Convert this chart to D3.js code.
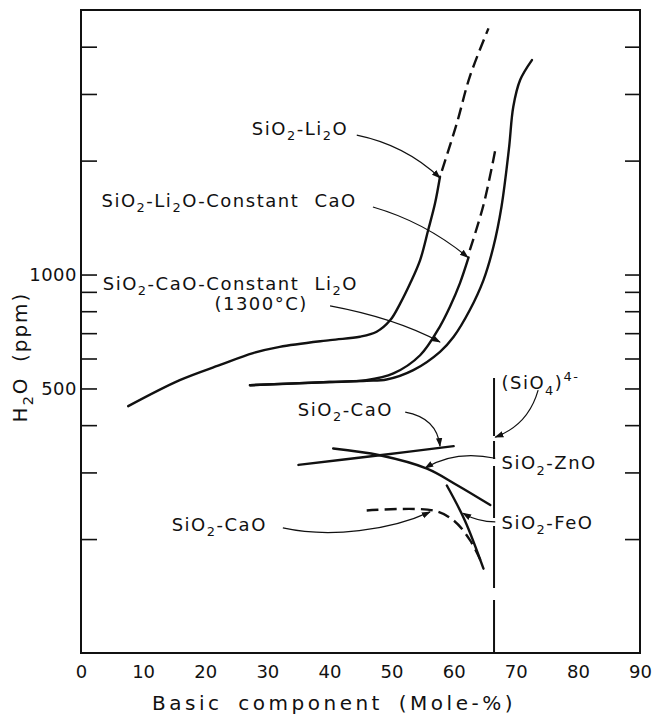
<!DOCTYPE html>
<html>
<head>
<meta charset="utf-8">
<script src="https://cdnjs.cloudflare.com/ajax/libs/d3/7.8.5/d3.min.js"></script>
<style>
  body { margin: 0; background: #fff; }
  text { font-family: "DejaVu Sans", sans-serif; fill: #111; }
</style>
</head>
<body>
<div id="chart"></div>
<script>
// data: x = basic component (mole-%), y = H2O (ppm)
const xTicks = [0, 10, 20, 30, 40, 50, 60, 70, 80, 90]
const yTicks = [200, 300, 400, 500, 600, 700, 800, 900, 1000, 2000, 3000, 4000]
const yLabeled = [500, 1000]

// SiO2-Li2O
const li2oSolid = [[7.6, 449], [15.9, 526], [22.4, 577], [27.7, 620], [32.0, 644], [40.1, 671], [44.9, 685],
  [47.6, 706], [49.8, 758], [51.4, 839], [53.0, 948], [54.6, 1092], [55.9, 1311], [57.0, 1542], [57.8, 1813]]
const li2oDashed = [[58.1, 1880], [60.5, 2506], [62.6, 3334], [65.6, 4470]]
// SiO2-Li2O-constant CaO
const li2oCaoSolid = [[27.2, 510], [40, 520], [45.9, 526], [50.3, 548], [54.6, 612], [57.8, 730], [59.4, 822],
  [61.0, 948], [62.4, 1110]]
const li2oCaoDashed = [[62.6, 1160], [64.8, 1526], [66.7, 2133]]
// SiO2-CaO-constant Li2O (1300 C)
const caoLi2o = [[27.2, 510], [40, 520], [46, 524], [49.2, 528], [53.5, 559], [57.8, 625], [60.0, 685], [62.6, 806],
  [64.8, 967], [66.4, 1184], [67.7, 1511], [68.9, 2150], [69.6, 2776], [70.7, 3266], [72.6, 3687]]
// lower group
const caoUpper = [[35.0, 314], [48.1, 333], [60.0, 352]]
const znO = [[40.6, 347], [48.1, 333], [55.7, 307], [60.5, 278], [65.9, 246]]
const feO = [[58.9, 277], [61.8, 224], [64.8, 167]]
const caoLower = [[46, 238], [56.7, 238], [60, 224], [62.6, 199], [64.3, 176]]
// orthosilicate composition line
const sio4X = 66.5
const sio4Y = [533, 100]

const labelText = ["SiO_2-Li_2O", "SiO_2-Li_2O-Constant CaO", "SiO_2-CaO-Constant Li_2O", "(1300°C)",
  "SiO_2-CaO", "SiO_2-ZnO", "SiO_2-FeO", "SiO_2-CaO", "(SiO_4)^{4-}"]
const labelX = [27.5, 3.3, 3.5, 29.0, 34.9, 67.7, 67.7, 14.6, 67.7]
const labelY = [2336, 1508, 910, 806, 423, 306, 213, 210, 498]
const labelAnchor = ["start", "start", "start", "middle", "start", "start", "start", "start", "start"]

// arrows: start, control, end (last one is a cubic)
const arrows = [
  [[44.4, 2336], [52.2, 2199], [57.8, 1800]],
  [[47.0, 1508], [55.4, 1376], [62.3, 1110]],
  [[40.1, 826], [50.6, 767], [57.8, 663]],
  [[52.2, 433], [57.3, 418], [57.8, 352]],
  [[66.7, 327], [60.2, 344], [55.4, 308]],
  [[66.7, 222], [63.9, 222], [61.5, 234]],
  [[73.6, 495], [72.0, 400], [66.7, 372]],
  [[32.5, 214], [40.1, 201], [49.8, 211], [56.2, 236]]
]

const width = 652
const height = 715
const mLeft = 81, mRight = 640, mTop = 10, mBottom = 653

const x = d3.scaleLinear().domain([0, 90]).range([mLeft, mRight])
const y = d3.scaleLog().domain([100, 5000]).range([mBottom, mTop])

const svg = d3.select("#chart").append("svg")
  .attr("width", width)
  .attr("height", height)

svg.append("defs").append("marker")
  .attr("id", "head")
  .attr("viewBox", "0 0 10 10")
  .attr("refX", 9).attr("refY", 5)
  .attr("markerWidth", 9).attr("markerHeight", 9)
  .attr("markerUnits", "userSpaceOnUse")
  .attr("orient", "auto")
  .append("path").attr("d", "M0,1.5 L10,5 L0,8.5 Z").attr("fill", "#111")

// frame
svg.append("rect")
  .attr("x", mLeft).attr("y", mTop)
  .attr("width", mRight - mLeft).attr("height", mBottom - mTop)
  .attr("fill", "none").attr("stroke", "#111").attr("stroke-width", 2)

// y ticks, inward, both sides
const fmt = d => yLabeled.includes(d) ? d : ""
const yl = svg.append("g").attr("transform", `translate(${mLeft},0)`)
  .call(d3.axisLeft(y).tickValues(yTicks).tickSize(-16).tickPadding(4).tickFormat(fmt))
const yr = svg.append("g").attr("transform", `translate(${mRight},0)`)
  .call(d3.axisRight(y).tickValues(yTicks).tickSize(-15).tickFormat(() => ""))
;[yl, yr].forEach(g => {
  g.select(".domain").remove()
  g.selectAll("line").attr("stroke", "#111").attr("stroke-width", 1.6)
})
yl.selectAll("text").attr("font-size", 18).attr("fill", "#111")
  .style("font-family", "DejaVu Sans").style("letter-spacing", "0.5px")

// x labels
const xa = svg.append("g").attr("transform", `translate(0,${mBottom})`)
  .call(d3.axisBottom(x).tickValues(xTicks).tickSize(0).tickPadding(12))
xa.select(".domain").remove()
xa.selectAll("text").attr("font-size", 18).attr("fill", "#111").style("font-family", "DejaVu Sans")

// rich text: _c subscript, ^{..} superscript
function rich(g, str, px, py, size, anchor) {
  const t = g.append("text").attr("x", px).attr("y", py)
    .attr("font-size", size).attr("text-anchor", anchor || "start")
    .style("letter-spacing", "1.5px").style("word-spacing", "8px")
  const parts = str.match(/_.|\^\{[^}]*\}|[^_^]+/g)
  let off = 0
  parts.forEach(p => {
    let target = 0, txt = p, small = false
    if (p[0] === "_") { target = size * 0.3; txt = p.slice(1); small = true }
    else if (p[0] === "^") { target = -size * 0.45; txt = p.slice(2, -1); small = true }
    t.append("tspan").attr("dy", target - off)
      .attr("font-size", small ? size * 0.72 : null).text(txt)
    off = target
  })
  return t
}

// axis titles
rich(svg, "Basic component (Mole-%)", 334, 710, 20, "middle").style("letter-spacing", "3.5px").style("word-spacing", "6px")
rich(svg, "H_2O (ppm)", 0, 0, 20, "middle")
  .attr("transform", "translate(27,357) rotate(-90)")
  .style("letter-spacing", "2px").style("word-spacing", "6px")

const line = d3.line().x(d => x(d[0])).y(d => y(d[1])).curve(d3.curveCatmullRom.alpha(0.5))

const curves = svg.append("g").attr("fill", "none").attr("stroke", "#111").attr("stroke-linecap", "round")
;[li2oSolid, li2oCaoSolid, caoLi2o, caoUpper, znO, feO].forEach(s => {
  curves.append("path").attr("d", line(s)).attr("stroke-width", 2.4)
})
;[li2oDashed, li2oCaoDashed, caoLower].forEach(s => {
  curves.append("path").attr("d", line(s)).attr("stroke-width", 2.4)
    .attr("stroke-linecap", "butt").attr("stroke-dasharray", "12,6")
})
curves.append("line")
  .attr("x1", x(sio4X)).attr("x2", x(sio4X))
  .attr("y1", y(sio4Y[0])).attr("y2", y(sio4Y[1]))
  .attr("stroke-width", 2).attr("stroke-linecap", "butt")
  .attr("stroke-dasharray", "58,5,18,7,52,8,62,12,60")

// annotation arrows
const ag = svg.append("g").attr("fill", "none").attr("stroke", "#111").attr("stroke-width", 1.2)
arrows.forEach(a => {
  const p = a.map(d => [x(d[0]), y(d[1])])
  const d = p.length === 3
    ? `M${p[0]}Q${p[1]} ${p[2]}`
    : `M${p[0]}C${p[1]} ${p[2]} ${p[3]}`
  ag.append("path").attr("d", d).attr("marker-end", "url(#head)")
})

// labels
const lg = svg.append("g")
labelText.forEach((s, i) => {
  rich(lg, s, x(labelX[i]), y(labelY[i]), 18, labelAnchor[i])
})
</script>
</body>
</html>
